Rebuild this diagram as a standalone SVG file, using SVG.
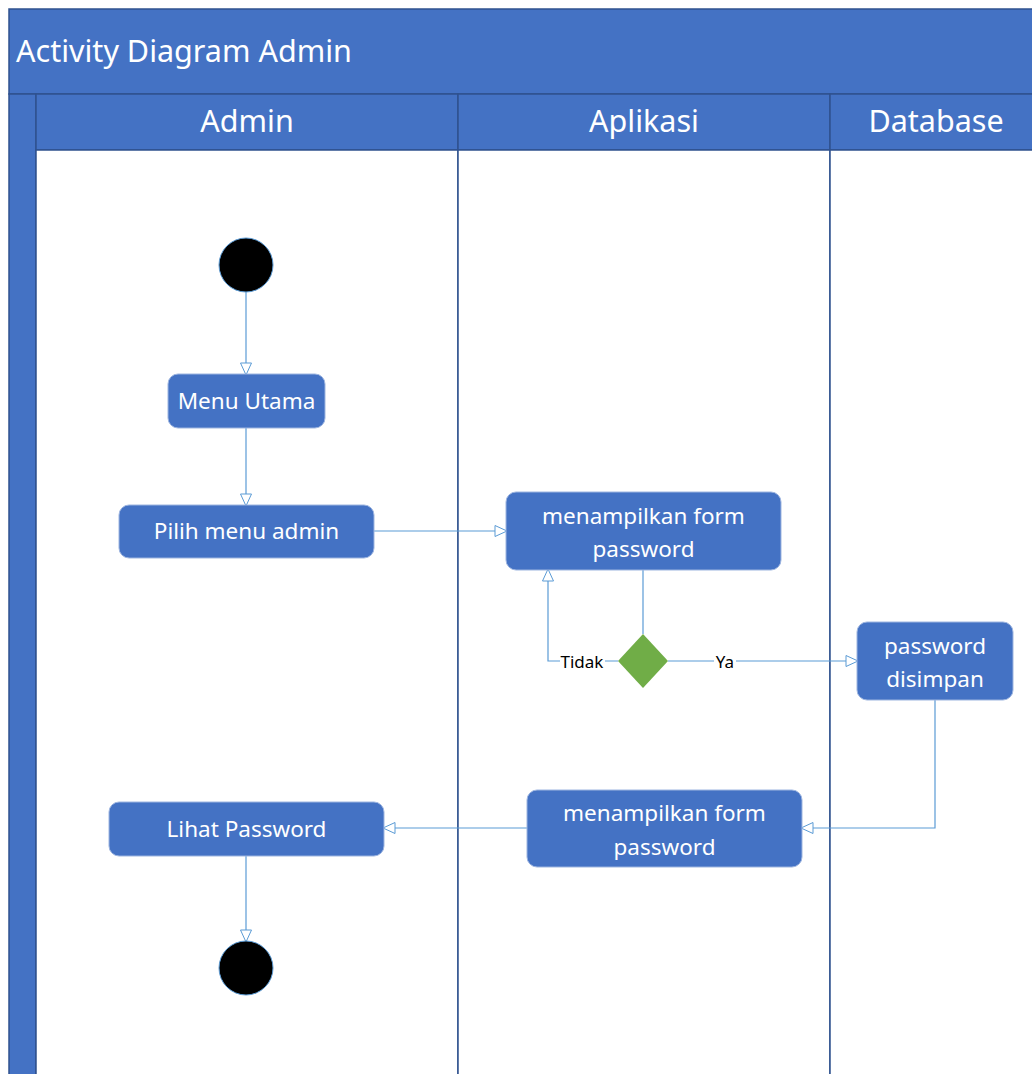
<svg xmlns="http://www.w3.org/2000/svg" width="1032" height="1074" viewBox="0 0 1032 1074">
<defs>
<marker id="arr" markerWidth="14" markerHeight="14" refX="12" refY="7" orient="auto" markerUnits="userSpaceOnUse">
<path d="M1,1.5 L13,7 L1,12.5 Z" fill="#fff" stroke="#5B9BD5" stroke-width="1"/>
</marker>
<style>
.band{fill:#4472C4;stroke:#2F528F;stroke-width:1.5}
.lane{fill:#fff;stroke:#2F528F;stroke-width:1.5}
.node{fill:#4472C4;stroke:#9DB5E0;stroke-width:1}
.hdr{font-family:"Noto Sans","Open Sans",sans-serif;fill:#fff;font-size:30.5px}
.txt{font-family:"Noto Sans","Open Sans",sans-serif;fill:#fff;font-size:22.5px;text-anchor:middle}
.lbl{font-family:"Noto Sans","Open Sans",sans-serif;fill:#000;font-size:17px;text-anchor:middle}
.conn{fill:none;stroke:#5B9BD5;stroke-width:1.2}
</style>
</defs>
<rect width="1032" height="1074" fill="#fff"/>
<g id="frame">
<rect class="band" x="9" y="9" width="1030" height="85"/>
<rect class="band" x="9" y="94" width="27" height="990"/>
<rect class="band" x="36" y="94" width="422" height="56"/>
<rect class="band" x="458" y="94" width="372" height="56"/>
<rect class="band" x="830" y="94" width="210" height="56"/>
<rect class="lane" x="36" y="150" width="422" height="934"/>
<rect class="lane" x="458" y="150" width="372" height="934"/>
<rect class="lane" x="830" y="150" width="210" height="934"/>
<text class="hdr" x="16" y="62">Activity Diagram Admin</text>
<text class="hdr" x="247" y="132" text-anchor="middle">Admin</text>
<text class="hdr" x="644" y="132" text-anchor="middle">Aplikasi</text>
<text class="hdr" x="936" y="132" text-anchor="middle">Database</text>
</g>
<g id="connectors">
<path class="conn" d="M246,292 V374" marker-end="url(#arr)"/>
<path class="conn" d="M246,428 V505" marker-end="url(#arr)"/>
<path class="conn" d="M374,531 H506" marker-end="url(#arr)"/>
<path class="conn" d="M643,570 V634"/>
<path class="conn" d="M618,661 H548 V570" marker-end="url(#arr)"/>
<path class="conn" d="M668,661 H857" marker-end="url(#arr)"/>
<path class="conn" d="M935,700 V828 H802" marker-end="url(#arr)"/>
<path class="conn" d="M527,828 H384" marker-end="url(#arr)"/>
<path class="conn" d="M246,856 V941" marker-end="url(#arr)"/>
<rect x="560" y="650" width="45" height="22" fill="#fff"/>
<text class="lbl" x="582" y="668">Tidak</text>
<rect x="714" y="650" width="22" height="22" fill="#fff"/>
<text class="lbl" x="725" y="668">Ya</text>
</g>
<g id="start"><circle cx="246" cy="265" r="27" fill="#000" stroke="#5B9BD5" stroke-width="1"/></g>
<g id="menu-utama"><rect class="node" x="168" y="374" width="157" height="54" rx="10"/><text class="txt" x="246.5" y="409">Menu Utama</text></g>
<g id="pilih-menu"><rect class="node" x="119" y="505" width="255" height="53" rx="10"/><text class="txt" x="246.5" y="539">Pilih menu admin</text></g>
<g id="form1"><rect class="node" x="506" y="492" width="275" height="78" rx="10"/><text class="txt" x="643.5" y="524">menampilkan form</text><text class="txt" x="643.5" y="557">password</text></g>
<g id="decision"><path d="M643,634 L668,661 L643,688 L618,661 Z" fill="#70AD47"/></g>
<g id="disimpan"><rect class="node" x="857" y="622" width="156" height="78" rx="10"/><text class="txt" x="935" y="654">password</text><text class="txt" x="935" y="687">disimpan</text></g>
<g id="form2"><rect class="node" x="527" y="790" width="275" height="77" rx="10"/><text class="txt" x="664.5" y="821">menampilkan form</text><text class="txt" x="664.5" y="855">password</text></g>
<g id="lihat"><rect class="node" x="109" y="802" width="275" height="54" rx="10"/><text class="txt" x="246.5" y="837">Lihat Password</text></g>
<g id="end"><circle cx="246" cy="968" r="27" fill="#000" stroke="#5B9BD5" stroke-width="1"/></g>
</svg>
